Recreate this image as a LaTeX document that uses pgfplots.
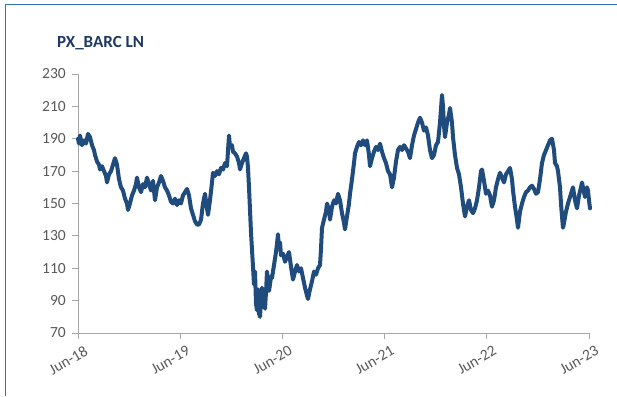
\documentclass[border=0pt]{standalone}
\usepackage{pgfplots}
\usepackage{pgfplotstable}
\pgfplotsset{compat=1.18}
\usepackage{fontspec}
\setmainfont{Carlito}
\definecolor{linecol}{RGB}{31,75,125}
\definecolor{titlecol}{RGB}{31,56,100}
\definecolor{tickcol}{RGB}{89,89,89}
\definecolor{axcol}{RGB}{166,166,166}
\definecolor{framecol}{RGB}{46,117,182}
\pgfplotstableread{
d v
78 190
79 187
80 192
82 186
84 189
86 187
88 193
90 191
92 186
94 183
95 180
97 176
99 174
100 171
102 173
104 170
106 167
107 163
109 168
111 170
113 174
115 178
117 174
119 165
121 160
123 158
125 153
127 150
128 146
130 150
132 155
134 158
136 162
137 166
139 160
141 157
143 162
145 160
147 166
149 162
151 158
153 164
155 152
157 160
159 163
161 167
163 164
165 160
167 158
169 155
171 151
173 150
175 153
177 149
179 152
181 150
183 155
185 157
187 159
189 155
191 147
193 143
195 139
197 137
199 137
201 140
203 150
205 156
207 147
208 143
210 152
212 163
213 169
215 167
217 170
219 168
221 172
223 171
225 175
227 173
229 192
230 185
232 186
233 182
235 181
237 179
239 175
240 171
242 175
244 178
246 181
247 179
248 172
249 160
250 146
251 132
253 111
254 100
255 108
256 88
257 84
258 97
259 82
260 80
261 90
262 98
263 86
264 92
265 85
266 95
267 108
268 103
269 96
270 100
271 105
272 104
274 112
276 120
277 125
278 131
279 122
280 126
281 118
283 119
285 114
287 117
289 120
291 111
293 103
295 108
297 112
299 108
301 110
303 104
305 98
307 93
308 91
310 97
312 102
314 108
316 106
318 110
320 112
321 122
322 135
324 140
326 145
327 150
329 146
330 140
332 148
334 152
336 150
338 156
340 152
342 144
344 138
345 134
347 142
349 150
350 156
352 165
354 175
355 181
357 185
359 188
361 186
363 189
365 186
367 189
369 180
370 173
372 178
374 182
376 185
378 183
380 187
382 182
384 178
386 175
388 170
390 168
392 160
394 166
396 176
398 183
400 185
402 183
404 186
406 184
408 182
410 178
412 186
414 192
416 196
418 200
420 203
422 200
424 195
426 197
428 192
430 183
432 178
434 180
436 186
438 188
440 200
442 217
443 210
444 198
445 191
447 200
449 205
450 209
452 200
453 191
455 180
457 172
459 168
461 160
463 150
465 142
467 148
469 152
471 146
473 144
475 147
477 152
479 160
481 170
482 171
484 164
486 156
488 158
490 155
492 148
494 152
496 160
498 165
500 169
502 166
504 163
506 168
508 170
510 172
512 165
513 158
515 148
517 140
518 135
520 145
522 150
524 154
526 157
528 158
530 160
532 161
534 159
536 156
538 157
540 165
542 175
544 180
546 183
548 186
550 189
552 190
554 183
555 175
557 173
558 170
560 160
561 150
562 142
563 135
564 138
566 145
568 150
570 154
572 158
573 160
575 152
577 147
579 155
581 160
582 163
584 157
585 154
587 160
588 158
589 152
590 147
}\barc
\begin{document}
\begin{tikzpicture}
\path[use as bounding box] (0,0) rectangle (617pt,396pt);
\draw[framecol, line width=1pt] (5pt,0) -- (5pt,391pt) -- (617pt,391pt);
\node[anchor=west, font=\fontsize{17}{19}\selectfont\bfseries, text=titlecol, inner sep=0pt] at (57pt,353pt) {PX\_BARC LN};
\begin{axis}[
  at={(78pt,63pt)}, anchor=south west,
  scale only axis, width=511pt, height=259pt,
  xmin=0, xmax=5, ymin=70, ymax=230,
  axis lines=left, axis line style={axcol, line width=0.8pt, -},
  ytick={70,90,...,230},
  xtick={0,1,2,3,4,5},
  xticklabels={Jun-18,Jun-19,Jun-20,Jun-21,Jun-22,Jun-23},
  tick style={axcol, line width=0.8pt},
  tick align=outside,
  major tick length=6pt,
  /pgf/number format/assume math mode=true,
  ticklabel style={font=\fontsize{15.5}{17}\selectfont, text=tickcol},
  xticklabel style={rotate=30, anchor=north east, inner sep=1pt, yshift=-7pt, xshift=3pt},
  yticklabel style={inner sep=1pt, xshift=-5pt},
  clip=false,
]
\addplot[linecol, line width=4pt, line join=round, line cap=round] table[x expr=(\thisrow{d}-78)/102.2, y=v] {\barc};
\end{axis}
\end{tikzpicture}
\end{document}
